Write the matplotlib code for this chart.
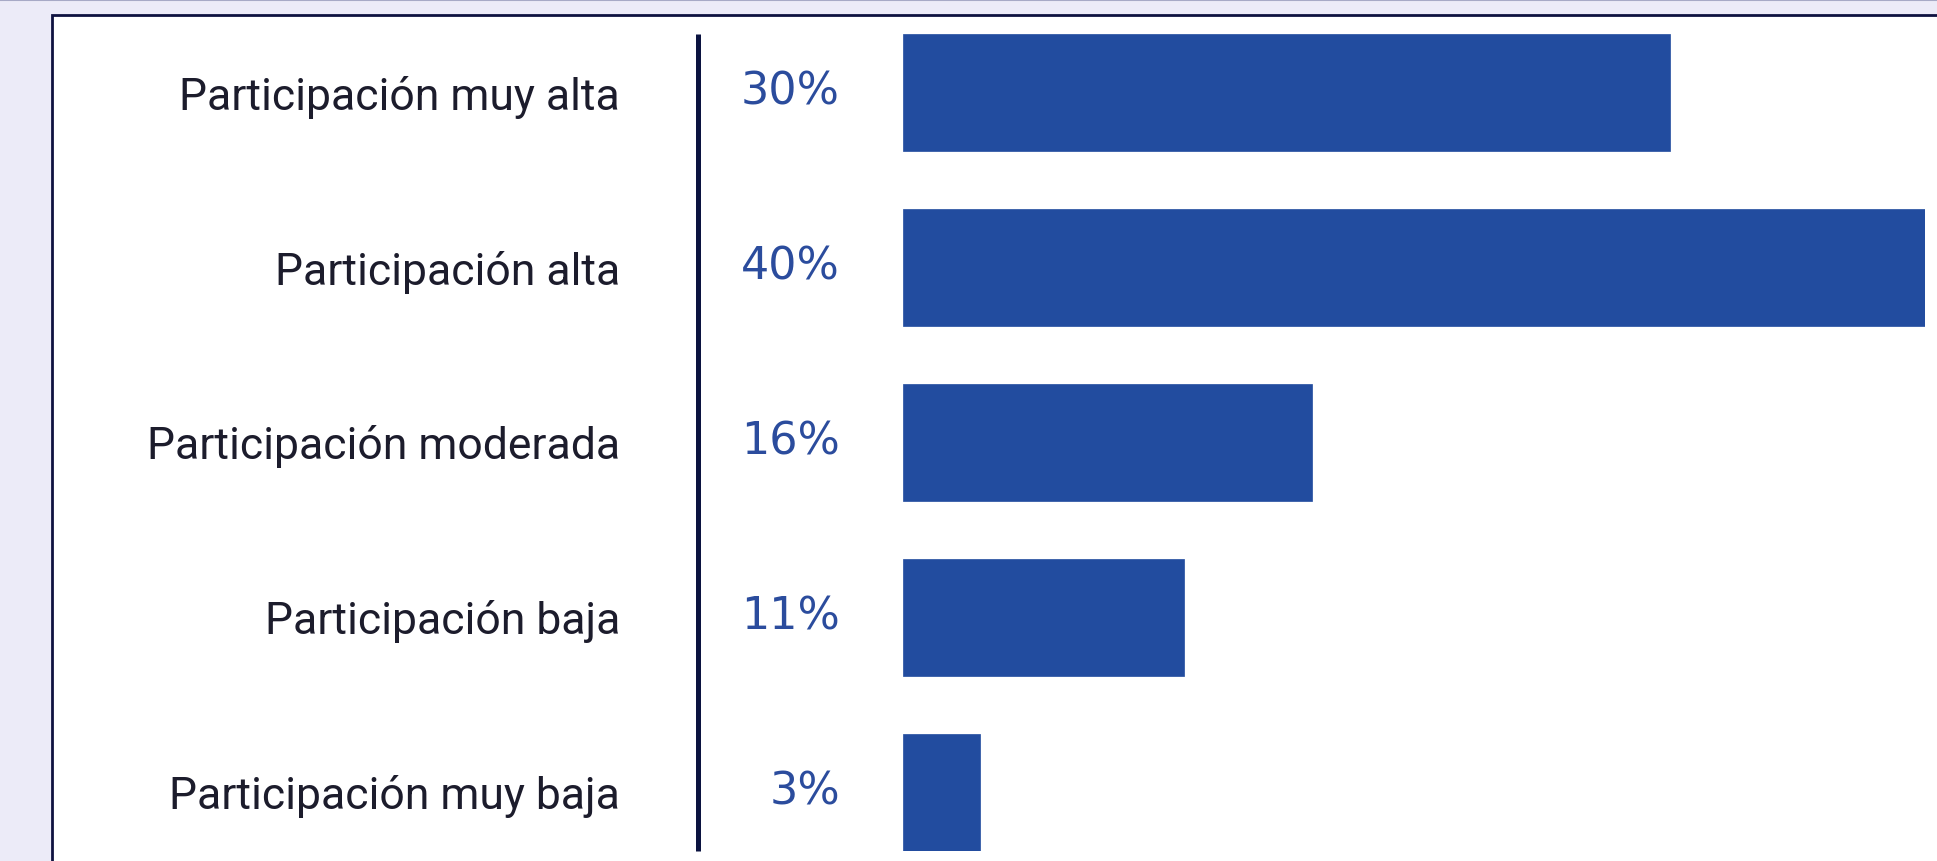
import matplotlib
matplotlib.use("Agg")
import matplotlib.pyplot as plt
import matplotlib.transforms as mtransforms
from matplotlib.patches import Rectangle

# Datos
categorias = ["Participación muy alta", "Participación alta", "Participación moderada",
              "Participación baja", "Participación muy baja"]
valores = [30, 40, 16, 11, 3]
etiquetas = ["30%", "40%", "16%", "11%", "3%"]

plt.rcParams['font.family'] = ['Roboto', 'DejaVu Sans']

W, H = 1937, 862
fig = plt.figure(figsize=(W / 100, H / 100), dpi=100)
fig.patch.set_facecolor('#ECEBF8')

# Carte blanche avec bordure
card = Rectangle((52 / W, -0.1), 1.2, (H - 16) / H + 0.1, transform=fig.transFigure,
                 facecolor='white', edgecolor='#0E1240', linewidth=2.0, zorder=-5)
fig.add_artist(card)
fig.add_artist(plt.Line2D([0, 1], [1 - 0.5 / H, 1 - 0.5 / H], transform=fig.transFigure,
                          color='#A7A9C6', linewidth=1.5, zorder=-5))

x0, x1 = 903, 1925
y_top, y_bot = 35, 852
ax = fig.add_axes([x0 / W, (H - y_bot) / H, (x1 - x0) / W, (y_bot - y_top) / H])
ax.set_zorder(5)
ax.set_facecolor('none')

y = list(range(len(categorias)))
ax.barh(y, valores, height=0.67, color='#224C9F', edgecolor='#224C9F', linewidth=0.5)
ax.set_xlim(0, max(valores))
ax.set_ylim(len(categorias) - 1 + 0.335, -0.335)
ax.axis('off')

tr = mtransforms.blended_transform_factory(ax.transAxes, ax.transData)
ax_w = x1 - x0
for yi, cat, lab in zip(y, categorias, etiquetas):
    ax.text((620 - x0) / ax_w, yi + 0.02, cat, transform=tr, ha='right', va='center',
            fontsize=32, color='#1C1C2C', clip_on=False)
    ax.text((840 - x0) / ax_w, yi - 0.01, lab, transform=tr, ha='right', va='center',
            fontsize=32, color='#2B4C9D', family='DejaVu Sans', clip_on=False)

# Ligne verticale de séparation
ax.plot([(698 - x0) / ax_w] * 2, [0, 1], transform=ax.transAxes, color='#0B1340',
        linewidth=3.6, clip_on=False, solid_capstyle='butt')

fig.savefig('out.png', dpi=100, facecolor=fig.get_facecolor())
